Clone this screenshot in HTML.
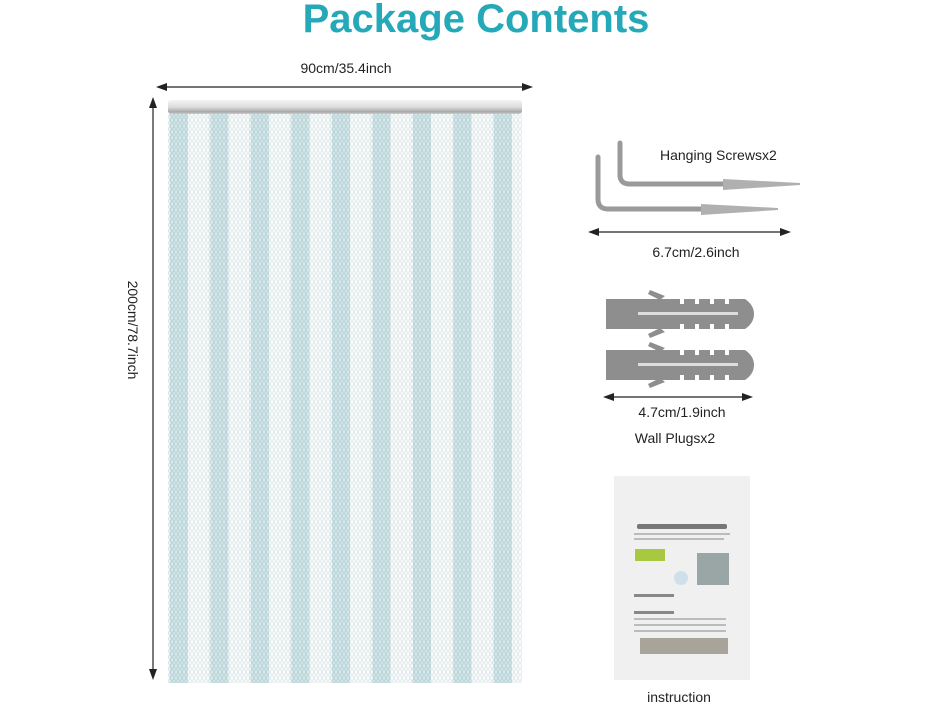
<!DOCTYPE html>
<html><head><meta charset="utf-8"><style>
body{margin:0;background:#fff;width:938px;height:704px;overflow:hidden;font-family:"Liberation Sans",sans-serif}
</style></head><body>
<svg width="938" height="704" viewBox="0 0 938 704" xmlns="http://www.w3.org/2000/svg" font-family="Liberation Sans, sans-serif">
<defs>
<pattern id="chain" x="168" y="114" width="4" height="6" patternUnits="userSpaceOnUse">
<rect width="4" height="6" fill="#fff"/>
<ellipse cx="2" cy="3" rx="1.2" ry="2.4" fill="none" stroke="#b5cdd0" stroke-width="0.7"/>
</pattern>
<pattern id="bands" x="168" y="0" width="40.5" height="10" patternUnits="userSpaceOnUse">
<rect x="2" width="18" height="10" fill="#7ab3b9" opacity="0.28"/>
<rect x="20" width="20.5" height="10" fill="#ffffff" opacity="0.35"/>
</pattern>
<linearGradient id="rail" x1="0" y1="0" x2="0" y2="1">
<stop offset="0" stop-color="#f4f4f4"/><stop offset="0.5" stop-color="#dcdcdc"/><stop offset="0.85" stop-color="#a8a8a8"/><stop offset="1" stop-color="#d0d0d0"/>
</linearGradient>
</defs>
<text x="476" y="32" text-anchor="middle" font-size="40" font-weight="bold" fill="#25a9b8">Package Contents</text>
<text x="346" y="73" text-anchor="middle" font-size="14" fill="#222">90cm/35.4inch</text>
<line x1="160" y1="87" x2="530" y2="87" stroke="#222" stroke-width="1.2"/>
<polygon points="156,87 167,83 167,91" fill="#222"/><polygon points="533,87 522,83 522,91" fill="#222"/>
<line x1="153" y1="104" x2="153" y2="672" stroke="#222" stroke-width="1.2"/>
<polygon points="153,97 149,108 157,108" fill="#222"/><polygon points="153,680 149,669 157,669" fill="#222"/>
<text transform="translate(128,330) rotate(90)" text-anchor="middle" font-size="14" fill="#222">200cm/78.7inch</text>
<rect x="168" y="114" width="354" height="569" fill="url(#chain)"/>
<rect x="168" y="114" width="354" height="569" fill="url(#bands)"/>
<rect x="168" y="100" width="354" height="14" rx="3" fill="url(#rail)"/>
<!-- screws -->
<g fill="none" stroke-linecap="round">
<path d="M620 143 V175 Q620 184 630 184 H723" stroke="#9a9a9a" stroke-width="5"/>
<path d="M598 157 V199 Q598 209 608 209 H701" stroke="#9a9a9a" stroke-width="5"/>
</g>
<polygon points="723,179 800,183 800,185 723,190" fill="#b0b0b0"/>
<polygon points="701,204 778,208 778,210 701,215" fill="#b0b0b0"/>
<text x="660" y="160" font-size="14" fill="#222">Hanging Screwsx2</text>
<line x1="592" y1="232" x2="788" y2="232" stroke="#222" stroke-width="1.2"/>
<polygon points="588,232 599,228 599,236" fill="#222"/><polygon points="791,232 780,228 780,236" fill="#222"/>
<text x="696" y="257" text-anchor="middle" font-size="14" fill="#222">6.7cm/2.6inch</text>
<!-- plugs -->
<g fill="#8e8e8e">
<path d="M606 299 H745 Q754 305 754 314 Q754 323 745 329 H606 Z"/>
<path d="M606 350 H745 Q754 356 754 365 Q754 374 745 380 H606 Z"/>
<polygon points="650,290 665,296 660,300 648,294"/><polygon points="650,338 665,332 660,328 648,334"/>
<polygon points="650,342 665,348 660,352 648,346"/><polygon points="650,388 665,382 660,378 648,384"/>
</g>
<g fill="#fff">
<rect x="680" y="299" width="4" height="5"/><rect x="695" y="299" width="4" height="5"/><rect x="710" y="299" width="4" height="5"/><rect x="725" y="299" width="4" height="5"/>
<rect x="680" y="324" width="4" height="5"/><rect x="695" y="324" width="4" height="5"/><rect x="710" y="324" width="4" height="5"/><rect x="725" y="324" width="4" height="5"/>
<rect x="680" y="350" width="4" height="5"/><rect x="695" y="350" width="4" height="5"/><rect x="710" y="350" width="4" height="5"/><rect x="725" y="350" width="4" height="5"/>
<rect x="680" y="375" width="4" height="5"/><rect x="695" y="375" width="4" height="5"/><rect x="710" y="375" width="4" height="5"/><rect x="725" y="375" width="4" height="5"/>
</g>
<rect x="638" y="312" width="100" height="3" fill="#ddd"/><rect x="638" y="363" width="100" height="3" fill="#ddd"/>
<line x1="607" y1="397" x2="750" y2="397" stroke="#222" stroke-width="1.2"/>
<polygon points="603,397 614,393 614,401" fill="#222"/><polygon points="753,397 742,393 742,401" fill="#222"/>
<text x="682" y="417" text-anchor="middle" font-size="14" fill="#222">4.7cm/1.9inch</text>
<text x="675" y="443" text-anchor="middle" font-size="14" fill="#222">Wall Plugsx2</text>
<!-- instruction -->
<rect x="614" y="476" width="136" height="204" fill="#f0f0f0"/>
<rect x="637" y="524" width="90" height="5" rx="2" fill="#777"/>
<rect x="634" y="533" width="96" height="2" fill="#bbb"/><rect x="634" y="538" width="90" height="2" fill="#bbb"/>
<rect x="635" y="549" width="30" height="12" fill="#a8c840"/>
<rect x="697" y="553" width="32" height="32" fill="#9aa6a6"/>
<circle cx="681" cy="578" r="7" fill="#cfe0ea"/>
<rect x="634" y="594" width="40" height="3" fill="#888"/>
<rect x="634" y="611" width="40" height="3" fill="#888"/>
<rect x="634" y="618" width="92" height="2" fill="#bbb"/><rect x="634" y="624" width="92" height="2" fill="#bbb"/><rect x="634" y="630" width="92" height="2" fill="#bbb"/>
<rect x="640" y="638" width="88" height="16" fill="#a9a49a"/>
<text x="679" y="702" text-anchor="middle" font-size="14" fill="#222">instruction</text>
</svg>
</body></html>
